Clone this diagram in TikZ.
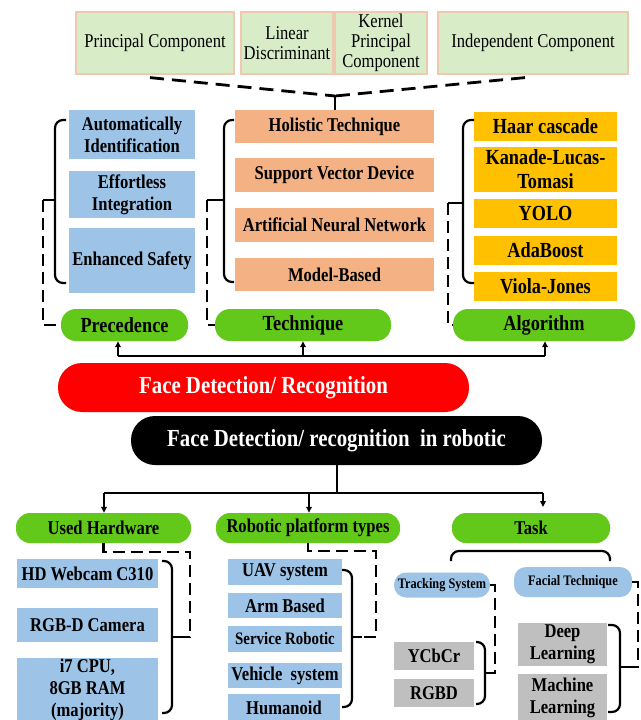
\documentclass[tikz,border=0pt]{standalone}
\usepackage{fontspec}
\setmainfont{Liberation Serif}[FakeStretch=0.85]
\usetikzlibrary{arrows.meta}
\definecolor{topg}{RGB}{216,236,200}
\definecolor{topb}{RGB}{240,200,175}
\definecolor{bluec}{RGB}{157,195,230}
\definecolor{orc}{RGB}{244,177,131}
\definecolor{goldc}{RGB}{255,192,0}
\definecolor{greenc}{RGB}{98,201,26}
\definecolor{grayc}{RGB}{191,191,191}
\definecolor{redc}{RGB}{255,0,0}
\begin{document}
\begin{tikzpicture}[x=1pt,y=-1pt,
  every node/.style={inner sep=0pt, align=center},
  topbox/.style={draw=topb, line width=1.2pt, fill=topg, font=\fontsize{19.5}{20}\selectfont},
  sq/.style={fill=#1, font=\bfseries\fontsize{19.5}{22}\selectfont},
  gsq/.style={fill=goldc, font=\bfseries\fontsize{21.5}{24}\selectfont},
  pill/.style={fill=greenc, rounded corners=15pt, font=\bfseries\fontsize{21.5}{24}\selectfont},
  pilltwo/.style={fill=greenc, rounded corners=14pt, font=\bfseries\fontsize{19.5}{22}\selectfont},
  bigpill/.style={fill=#1, text=white, rounded corners=24pt, font=\bfseries\fontsize{24.5}{26}\selectfont},
  smallpill/.style={fill=bluec, rounded corners=12pt, font=\bfseries\fontsize{14.5}{16}\selectfont},
  conn/.style={line width=2pt},
  arr/.style={line width=2pt, -{Triangle[length=6pt,width=5.5pt]}},
  brc/.style={line width=2.2pt, rounded corners=8pt},
  tick/.style={line width=2.2pt},
  dsh/.style={line width=2.2pt, dash pattern=on 12pt off 6pt},
  tdash/.style={line width=2.8pt, dash pattern=on 14pt off 8pt}
]
\useasboundingbox (0,0) rectangle (640,720);
\fill[white] (0,0) rectangle (640,720);

% top row
\node[topbox, minimum width=158pt, minimum height=62pt] (pc) at (155,43) {Principal Component};
\node[topbox, minimum width=92pt, minimum height=62pt] (ld) at (287,43) {Linear\\Discriminant};
\node[topbox, minimum width=92pt, minimum height=62pt] (kpc) at (381,43) {Kernel\\Principal\\Component};
\node[topbox, minimum width=190pt, minimum height=62pt] (ic) at (533,43) {Independent Component};

% precedence column
\node[sq=bluec, minimum width=126pt, minimum height=49pt] (ai) at (132,134.5) {Automatically\\Identification};
\node[sq=bluec, minimum width=126pt, minimum height=47pt] (ei) at (132,194.5) {Effortless\\Integration};
\node[sq=bluec, minimum width=126pt, minimum height=65pt] (es) at (132,260.5) {Enhanced Safety};

% technique column
\node[sq=orc, minimum width=199pt, minimum height=33pt] (hol) at (334.5,126.5) {Holistic Technique};
\node[sq=orc, minimum width=199pt, minimum height=34pt] (svd) at (334.5,175) {Support Vector Device};
\node[sq=orc, minimum width=199pt, minimum height=34pt] (ann) at (334.5,225) {Artificial Neural Network};
\node[sq=orc, minimum width=199pt, minimum height=33pt] (mb) at (334.5,274.5) {Model-Based};

% algorithm column
\node[gsq, minimum width=143pt, minimum height=29pt] (haar) at (545.5,126.5) {Haar cascade};
\node[gsq, minimum width=143pt, minimum height=45pt] (klt) at (545.5,169.5) {Kanade-Lucas-\\Tomasi};
\node[gsq, minimum width=143pt, minimum height=29pt] (yolo) at (545.5,213.5) {YOLO};
\node[gsq, minimum width=143pt, minimum height=29pt] (ada) at (545.5,250.5) {AdaBoost};
\node[gsq, minimum width=143pt, minimum height=29pt] (vj) at (545.5,286.5) {Viola-Jones};

% green pills
\node[pill, minimum width=127pt, minimum height=32pt] (prec) at (124.5,325) {Precedence};
\node[pill, minimum width=176pt, minimum height=32pt] (tech) at (303,325) {Technique};
\node[pill, minimum width=182pt, minimum height=32pt] (algo) at (544,325) {Algorithm};

% main pills
\node[bigpill=redc, minimum width=411pt, minimum height=49pt] (red) at (263.5,387.5) {Face Detection/ Recognition};
\node[bigpill=black, minimum width=411pt, minimum height=49pt] (blk) at (336.5,440.5) {Face Detection/ recognition\ \ in robotic};

% lower pills
\node[pilltwo, minimum width=175pt, minimum height=30pt] (uh) at (103.5,528) {Used Hardware};
\node[pilltwo, minimum width=184pt, minimum height=30pt] (rpt) at (308,528) {Robotic platform types};
\node[pilltwo, minimum width=158pt, minimum height=30pt] (task) at (531,528) {Task};

% hardware
\node[sq=bluec, minimum width=141pt, minimum height=29pt] (hd) at (87.5,573.5) {HD Webcam C310};
\node[sq=bluec, minimum width=141pt, minimum height=34pt] (rgbd) at (87.5,625) {RGB-D Camera};
\node[sq=bluec, minimum width=141pt, minimum height=64pt] (cpu) at (87.5,690) {i7 CPU,\\8GB RAM\\(majority)};

% platforms
\node[sq=bluec, minimum width=114pt, minimum height=26pt] (uav) at (285,572) {UAV system};
\node[sq=bluec, minimum width=114pt, minimum height=25pt] (arm) at (285,605.5) {Arm Based};
\node[sq=bluec, minimum width=114pt, minimum height=26pt, font=\bfseries\fontsize{17.5}{20}\selectfont] (serv) at (285,639) {Service Robotic};
\node[sq=bluec, minimum width=114pt, minimum height=25pt] (veh) at (285,675.5) {Vehicle\ \ system};
\node[sq=bluec, minimum width=112pt, minimum height=28pt] (hum) at (284,708) {Humanoid};

% task
\node[smallpill, minimum width=96pt, minimum height=25pt] (trk) at (442,585) {Tracking System};
\node[smallpill, minimum width=118pt, minimum height=30pt] (fac) at (573,582) {Facial Technique};
\node[sq=grayc, minimum width=80pt, minimum height=28pt] (ycb) at (434,656) {YCbCr};
\node[sq=grayc, minimum width=80pt, minimum height=28pt] (rgbdd) at (434,693) {RGBD};
\node[sq=grayc, minimum width=89pt, minimum height=43pt] (dl) at (562.5,644.5) {Deep\\Learning};
\node[sq=grayc, minimum width=89pt, minimum height=48pt] (ml) at (562.5,698) {Machine\\Learning};

% top dashed connectors
\coordinate (tj) at (335,96);
\draw[tdash] ([xshift=-5pt,yshift=-3pt]pc.south) -- (tj);
\draw[tdash] ([xshift=-8pt,yshift=-3pt]ic.south) -- (tj);
\draw[conn] (tj) -- (tj |- hol.north);
\draw[conn] ([xshift=-6pt]tj) -- ([xshift=6pt]tj);

% braces upper
\draw[brc] (66,120) -- (55,120) -- (55,283) -- (66,283);
\draw[tick] (55,200) -- (43,200);
\coordinate (pt) at (43,200);
\draw[dsh] (pt) |- (prec.west);

\draw[brc] (234,120) -- (224,120) -- (224,282) -- (234,282);
\draw[tick] (224,200) -- (207,200);
\coordinate (tt) at (207,200);
\draw[dsh] (tt) |- (tech.west);

\draw[brc] (474,120) -- (463,120) -- (463,283) -- (474,283);
\draw[tick] (463,203) -- (448,203);
\coordinate (at) at (448,203);
\draw[dsh] (at) |- (algo.west);

% upper bus
\coordinate (u1) at (118,356);
\coordinate (u2) at (303,356);
\coordinate (u3) at (545,356);
\draw[conn] (u1) -- (u3);
\draw[arr] (u1) -- (u1 |- prec.south);
\draw[arr] (u2) -- (u2 |- tech.south);
\draw[arr] (u3) -- (u3 |- algo.south);

% lower bus
\coordinate (lb) at (336.5,493);
\coordinate (l1) at (104,493);
\coordinate (l2) at (309,493);
\coordinate (l3) at (543,493);
\coordinate (l3e) at (543,507);
\draw[conn] (blk.south) -- (lb);
\draw[conn] (l1) -- (l3);
\draw[arr] (l1) -- (l1 |- uh.north);
\draw[arr] (l2) -- (l2 |- rpt.north);
\draw[arr] (l3) -- (l3e);

% hardware brace
\draw[dsh] (uh.south) -- ++(0,9) -| (190,637) -- (182,637);
\draw[brc] (162,561) -- (172,561) -- (172,713) -- (162,713);
\draw[tick] (172,637) -- (182,637);

% platform brace
\draw[dsh] (rpt.south) -- ++(0,8) -| (376,637) -- (362,637);
\draw[brc] (342,570) -- (352,570) -- (352,707) -- (342,707);
\draw[tick] (352,637) -- (362,637);

% task bracket
\draw[brc] (451,561) -- (451,551) -- (610,551) -- (610,561);

% tracking
\draw[dsh] (trk.east) -| (495,673) -- (486,673);
\draw[brc] (476,642) -- (485,642) -- (485,704) -- (476,704);
\draw[tick] (485,673) -- (493,673);

% facial
\draw[dsh] (fac.east) -| (638,667) -- (630,667);
\draw[brc] (608,625) -- (620,625) -- (620,712) -- (608,712);
\draw[tick] (620,667) -- (630,667);
\end{tikzpicture}
\end{document}
